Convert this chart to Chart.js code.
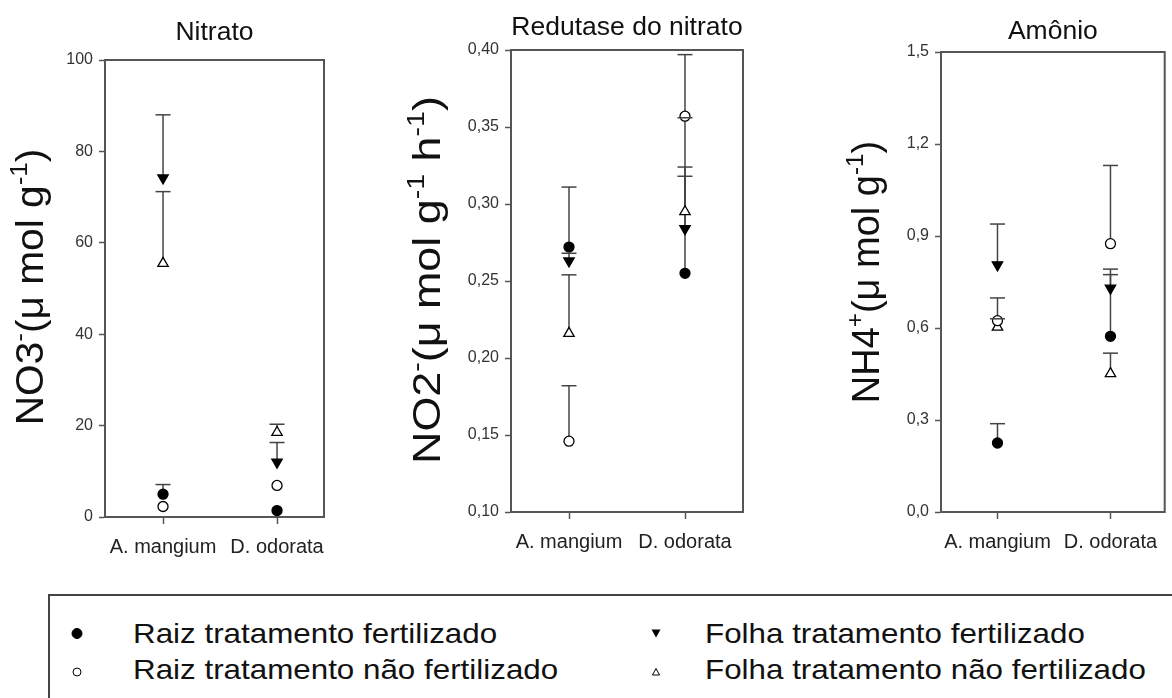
<!DOCTYPE html>
<html lang="pt">
<head>
<meta charset="utf-8">
<title>Nitrato, redutase do nitrato e amônio</title>
<script src="https://cdn.jsdelivr.net/npm/chart.js@4.4.1/dist/chart.umd.min.js"></script>
<style>
  html, body { margin: 0; padding: 0; background: #fff; }
  body { width: 1172px; height: 698px; overflow: hidden; position: relative;
         font-family: 'Liberation Sans', Arial, sans-serif; }
  canvas { position: absolute; top: 0; }
  #c1 { left: 0; }
  #c2 { left: 345px; }
  #c3 { left: 755px; }
  #legend { position: absolute; left: 0; top: 580px; }
</style>
</head>
<body>
<canvas id="c1" width="345" height="590"></canvas>
<canvas id="c2" width="410" height="590"></canvas>
<canvas id="c3" width="417" height="590"></canvas>
<svg id="legend" width="1172" height="118" xmlns="http://www.w3.org/2000/svg"></svg>

<script>
// ---- categories and series ----
const categories = ['A. mangium', 'D. odorata'];
const seriesNames = [
  'Raiz tratamento fertilizado',
  'Raiz tratamento não fertilizado',
  'Folha tratamento fertilizado',
  'Folha tratamento não fertilizado'
];

// Nitrato (µmol g-1): mean and upper error per category
const nitratoRaizFert = [5.0, 1.4];
const nitratoRaizFertErr = [2.1, 0];
const nitratoRaizNaoFert = [2.3, 6.9];
const nitratoRaizNaoFertErr = [0, 0];
const nitratoFolhaFert = [74.2, 12.0];
const nitratoFolhaFertErr = [13.8, 4.3];
const nitratoFolhaNaoFert = [55.5, 18.5];
const nitratoFolhaNaoFertErr = [15.7, 1.8];
const nitratoTicks = [0, 20, 40, 60, 80, 100];

// Redutase do nitrato (µmol NO2- g-1 h-1)
const redutaseRaizFert = [0.272, 0.255];
const redutaseRaizFertErr = [0.039, 0.101];
const redutaseRaizNaoFert = [0.146, 0.357];
const redutaseRaizNaoFertErr = [0.036, 0.040];
const redutaseFolhaFert = [0.263, 0.284];
const redutaseFolhaFertErr = [0.005, 0.034];
const redutaseFolhaNaoFert = [0.216, 0.295];
const redutaseFolhaNaoFertErr = [0.038, 0.029];
const redutaseTicks = [0.10, 0.15, 0.20, 0.25, 0.30, 0.35, 0.40];

// Amônio (µmol g-1)
const amonioRaizFert = [0.225, 0.573];
const amonioRaizFertErr = [0.063, 0.219];
const amonioRaizNaoFert = [0.624, 0.875];
const amonioRaizNaoFertErr = [0.074, 0.255];
const amonioFolhaFert = [0.806, 0.730];
const amonioFolhaFertErr = [0.133, 0.044];
const amonioFolhaNaoFert = [0.603, 0.451];
const amonioFolhaNaoFertErr = [0.027, 0.067];
const amonioTicks = [0, 0.3, 0.6, 0.9, 1.2, 1.5];

// ---- styling ----
const FONT = "'Liberation Sans', Arial, sans-serif";
const AXIS = '#555';
Chart.defaults.font.family = FONT;

const markerStyles = [
  { pointStyle: 'circle',   radius: 5,   fill: '#000', rot: 0 },
  { pointStyle: 'circle',   radius: 5,   fill: '#fff', rot: 0 },
  { pointStyle: 'triangle', radius: 6,   fill: '#000', rot: 180 },
  { pointStyle: 'triangle', radius: 6,   fill: '#fff', rot: 0 }
];

// one-sided (upper) error bars: stems under the markers, caps over them
function drawErrorBars(chart, caps) {
  const { ctx, scales: { x, y } } = chart;
  ctx.save();
  ctx.strokeStyle = '#444';
  ctx.lineWidth = 1.5;
  chart.data.datasets.forEach(ds => {
    ds.errors.forEach((e, i) => {
      if (!e) return;
      const p = ds.data[i];
      const px = x.getPixelForValue(p.x);
      const y0 = y.getPixelForValue(p.y);
      const y1 = y.getPixelForValue(p.y + e);
      ctx.beginPath();
      if (caps) { ctx.moveTo(px - 7.5, y1); ctx.lineTo(px + 7.5, y1); }
      else { ctx.moveTo(px, y0); ctx.lineTo(px, y1); }
      ctx.stroke();
    });
  });
  ctx.restore();
}
const errorBars = {
  id: 'errorBars',
  beforeDatasetsDraw(chart) { drawErrorBars(chart, false); },
  afterDatasetsDraw(chart) { drawErrorBars(chart, true); }
};

// closed frame around the plot area
const frame = {
  id: 'frame',
  beforeDatasetsDraw(chart) {
    const { ctx, chartArea: a } = chart;
    ctx.save();
    ctx.strokeStyle = AXIS;
    ctx.lineWidth = 2;
    ctx.strokeRect(a.left, a.top, a.right - a.left, a.bottom - a.top);
    ctx.restore();
  }
};

// panel heading above the frame
const panelTitle = {
  id: 'panelTitle',
  afterDraw(chart, args, o) {
    const { ctx, chartArea: a } = chart;
    ctx.save();
    ctx.font = o.size + 'px ' + FONT;
    ctx.fillStyle = '#111';
    ctx.textAlign = 'center';
    ctx.textBaseline = 'alphabetic';
    ctx.translate((a.left + a.right) / 2, o.baseline);
    ctx.scale(1.06, 1);
    ctx.fillText(o.text, 0, 0);
    ctx.restore();
  }
};

// rotated y-axis title with superscripts
const yTitle = {
  id: 'yTitle',
  afterDraw(chart, args, o) {
    const { ctx, chartArea: a } = chart;
    const fs = o.size;
    const supFs = fs * 0.64;
    ctx.save();
    ctx.fillStyle = '#111';
    ctx.textBaseline = 'alphabetic';
    ctx.textAlign = 'left';
    ctx.translate(a.left - o.offset, o.centerY);
    ctx.rotate(-Math.PI / 2);
    ctx.scale(o.stretch, 1);
    let total = 0;
    o.segments.forEach(s => {
      ctx.font = (s.sup ? supFs : fs) + 'px ' + FONT;
      total += ctx.measureText(s.t).width;
    });
    let x = -total / 2;
    o.segments.forEach(s => {
      ctx.font = (s.sup ? supFs : fs) + 'px ' + FONT;
      ctx.fillText(s.t, x, s.sup ? -fs * 0.42 : 0);
      x += ctx.measureText(s.t).width;
    });
    ctx.restore();
  }
};

function makePanel(id, cfg) {
  const datasets = cfg.series.map((s, k) => ({
    label: seriesNames[k],
    data: s.values.map((v, i) => ({ x: i + 1, y: v })),
    errors: s.errors,
    pointStyle: markerStyles[k].pointStyle,
    pointRadius: markerStyles[k].radius,
    pointRotation: markerStyles[k].rot,
    pointBackgroundColor: markerStyles[k].fill,
    pointBorderColor: '#000',
    pointBorderWidth: 1.3,
    showLine: false
  }));
  return new Chart(document.getElementById(id), {
    type: 'scatter',
    data: { datasets },
    options: {
      responsive: false,
      animation: false,
      events: [],
      layout: { padding: { top: cfg.top, right: cfg.right, left: 0, bottom: 0 } },
      plugins: {
        legend: { display: false },
        tooltip: { enabled: false },
        panelTitle: { text: cfg.title, baseline: cfg.titleBaseline, size: 25 },
        yTitle: { segments: cfg.yTitle, offset: cfg.yTitleOffset, centerY: cfg.yTitleCenter,
                  stretch: cfg.yTitleStretch, size: 38 }
      },
      scales: {
        x: {
          type: 'linear',
          min: cfg.xMin, max: cfg.xMax,
          afterBuildTicks: s => { s.ticks = categories.map((c, i) => ({ value: i + 1 })); },
          afterFit: s => { s.height = cfg.xAxisHeight; },
          ticks: {
            callback: v => categories[v - 1],
            font: { size: 20 }, color: '#222', padding: 11,
            maxRotation: 0, autoSkip: false
          },
          grid: { drawOnChartArea: false, tickLength: 7, tickColor: AXIS, tickWidth: 1.5 },
          border: { color: AXIS, width: 2 }
        },
        y: {
          min: cfg.ticks[0], max: cfg.ticks[cfg.ticks.length - 1],
          afterBuildTicks: s => { s.ticks = cfg.ticks.map(v => ({ value: v })); },
          afterFit: s => { s.width = cfg.yAxisWidth; },
          ticks: {
            callback: v => cfg.fmt(v),
            font: { size: 16 }, color: '#333', padding: 6, autoSkip: false
          },
          grid: { drawOnChartArea: false, tickLength: 6, tickColor: AXIS, tickWidth: 1.5 },
          border: { color: AXIS, width: 2 }
        }
      }
    },
    plugins: [frame, errorBars, panelTitle, yTitle]
  });
}

makePanel('c1', {
  title: 'Nitrato', titleBaseline: 40,
  yTitle: [{ t: 'NO3' }, { t: '-', sup: true }, { t: '(μ mol g' }, { t: '-1', sup: true }, { t: ')' }],
  yTitleOffset: 62, yTitleCenter: 287, yTitleStretch: 1.07,
  top: 60, right: 21, yAxisWidth: 105, xAxisHeight: 73,
  xMin: 0.491, xMax: 2.412,
  ticks: nitratoTicks, fmt: v => String(Math.round(v)),
  series: [
    { values: nitratoRaizFert, errors: nitratoRaizFertErr },
    { values: nitratoRaizNaoFert, errors: nitratoRaizNaoFertErr },
    { values: nitratoFolhaFert, errors: nitratoFolhaFertErr },
    { values: nitratoFolhaNaoFert, errors: nitratoFolhaNaoFertErr }
  ]
});

makePanel('c2', {
  title: 'Redutase do nitrato', titleBaseline: 35,
  yTitle: [{ t: 'NO2' }, { t: '-', sup: true }, { t: '(μ mol g' }, { t: '-1', sup: true }, { t: ' h' }, { t: '-1', sup: true }, { t: ')' }],
  yTitleOffset: 71, yTitleCenter: 280, yTitleStretch: 1.18,
  top: 50, right: 12, yAxisWidth: 166, xAxisHeight: 78,
  xMin: 0.5, xMax: 2.5,
  ticks: redutaseTicks, fmt: v => v.toFixed(2).replace('.', ','),
  series: [
    { values: redutaseRaizFert, errors: redutaseRaizFertErr },
    { values: redutaseRaizNaoFert, errors: redutaseRaizNaoFertErr },
    { values: redutaseFolhaFert, errors: redutaseFolhaFertErr },
    { values: redutaseFolhaNaoFert, errors: redutaseFolhaNaoFertErr }
  ]
});

makePanel('c3', {
  title: 'Amônio', titleBaseline: 39,
  yTitle: [{ t: 'NH4' }, { t: '+', sup: true }, { t: '(μ mol g' }, { t: '-1', sup: true }, { t: ')' }],
  yTitleOffset: 62, yTitleCenter: 272, yTitleStretch: 1.0,
  top: 52, right: 5, yAxisWidth: 186, xAxisHeight: 78,
  xMin: 0.5, xMax: 2.48,
  ticks: amonioTicks, fmt: v => v.toFixed(1).replace('.', ','),
  series: [
    { values: amonioRaizFert, errors: amonioRaizFertErr },
    { values: amonioRaizNaoFert, errors: amonioRaizNaoFertErr },
    { values: amonioFolhaFert, errors: amonioFolhaFertErr },
    { values: amonioFolhaNaoFert, errors: amonioFolhaNaoFertErr }
  ]
});

// ---- shared legend box ----
(function buildLegend() {
  const NS = 'http://www.w3.org/2000/svg';
  const svg = document.getElementById('legend');
  const el = (tag, attrs) => {
    const e = document.createElementNS(NS, tag);
    for (const k in attrs) e.setAttribute(k, attrs[k]);
    svg.appendChild(e);
    return e;
  };
  el('rect', { x: 49, y: 15, width: 1140, height: 130, fill: '#fff', stroke: '#444', 'stroke-width': 2 });
  const slots = [
    { mx: 77, tx: 133, row: 0 },
    { mx: 77, tx: 133, row: 1 },
    { mx: 656, tx: 705, row: 0 },
    { mx: 656, tx: 705, row: 1 }
  ];
  const rowBase = [63, 99];
  const rowMark = [53.5, 92];
  seriesNames.forEach((name, k) => {
    const s = slots[k];
    const cy = rowMark[s.row];
    const m = markerStyles[k];
    if (m.pointStyle === 'circle') {
      el('circle', { cx: s.mx, cy, r: m.fill === '#000' ? 5 : 4, fill: m.fill, stroke: '#000', 'stroke-width': 1 });
    } else if (m.rot === 180) {
      el('path', { d: `M${s.mx - 4.5},${cy - 4} L${s.mx + 4.5},${cy - 4} L${s.mx},${cy + 4} Z`, fill: '#000' });
    } else {
      el('path', { d: `M${s.mx - 3.5},${cy + 3} L${s.mx + 3.5},${cy + 3} L${s.mx},${cy - 3.5} Z`, fill: '#fff', stroke: '#000', 'stroke-width': 1 });
    }
    const t = el('text', {
      x: 0, y: 0,
      transform: `translate(${s.tx},${rowBase[s.row]}) scale(1.12,1)`,
      'font-family': FONT, 'font-size': 28, fill: '#111'
    });
    t.textContent = name;
  });
})();
</script>
</body>
</html>
